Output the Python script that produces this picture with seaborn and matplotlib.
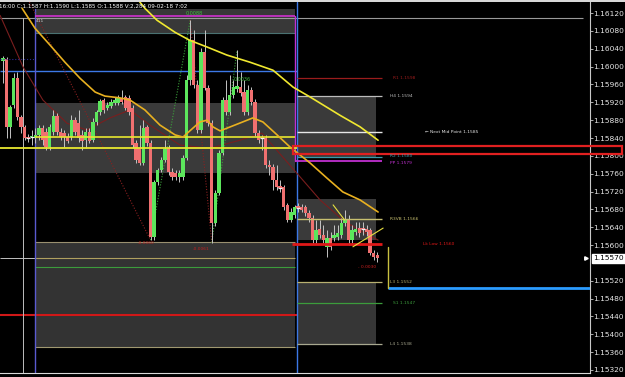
import numpy as np
import pandas as pd
import matplotlib
matplotlib.use("Agg")
import matplotlib.pyplot as plt
from matplotlib.patches import Rectangle
import seaborn as sns

sns.set_style("dark", {"axes.facecolor": "black", "figure.facecolor": "black",
                       "axes.grid": False})
plt.rcParams['font.family'] = ['DejaVu Sans']

# ---------------- data (EURUSD M15-like candles) ----------------
opens = [
    1.16012, 1.16017, 1.15865, 1.15914, 1.15974, 1.15887, 1.15865, 1.15842, 1.15842, 1.15840,
    1.15847, 1.15862, 1.15853, 1.15820, 1.15853, 1.15889, 1.15853, 1.15851, 1.15842, 1.15842,
    1.15880, 1.15873, 1.15847, 1.15835, 1.15853, 1.15835, 1.15876, 1.15898, 1.15925, 1.15907,
    1.15912, 1.15918, 1.15918, 1.15930, 1.15932, 1.15930, 1.15907, 1.15829, 1.15817, 1.15784,
    1.15865, 1.15829, 1.15618, 1.15741, 1.15768, 1.15791, 1.15817, 1.15764, 1.15762, 1.15753,
    1.15753, 1.15795, 1.15970, 1.16059, 1.15959, 1.15858, 1.16032, 1.15952, 1.15873, 1.15650,
    1.15717, 1.15806, 1.15925, 1.15898, 1.15936, 1.15950, 1.15954, 1.15943, 1.15898, 1.15947,
    1.15921, 1.15851, 1.15840, 1.15840, 1.15779, 1.15775, 1.15746, 1.15730, 1.15730, 1.15690,
    1.15656, 1.15667, 1.15685, 1.15685, 1.15685, 1.15672, 1.15661, 1.15611, 1.15636, 1.15623,
    1.15596, 1.15616, 1.15616, 1.15618, 1.15623, 1.15650, 1.15656, 1.15611, 1.15629, 1.15638,
    1.15636, 1.15636, 1.15634, 1.15582, 1.15578]
closes = [
    1.16019, 1.15865, 1.15909, 1.15974, 1.15887, 1.15865, 1.15840, 1.15840, 1.15843, 1.15847,
    1.15862, 1.15835, 1.15820, 1.15865, 1.15889, 1.15853, 1.15842, 1.15842, 1.15833, 1.15880,
    1.15853, 1.15840, 1.15833, 1.15853, 1.15833, 1.15876, 1.15898, 1.15923, 1.15903, 1.15914,
    1.15921, 1.15925, 1.15930, 1.15921, 1.15907, 1.15898, 1.15824, 1.15791, 1.15784, 1.15862,
    1.15829, 1.15618, 1.15741, 1.15768, 1.15791, 1.15815, 1.15764, 1.15753, 1.15753, 1.15762,
    1.15795, 1.15970, 1.16059, 1.15959, 1.15858, 1.16032, 1.15952, 1.15873, 1.15650, 1.15717,
    1.15806, 1.15925, 1.15898, 1.15936, 1.15954, 1.15956, 1.15941, 1.15898, 1.15947, 1.15921,
    1.15851, 1.15835, 1.15839, 1.15779, 1.15775, 1.15746, 1.15730, 1.15729, 1.15685, 1.15656,
    1.15674, 1.15685, 1.15684, 1.15679, 1.15672, 1.15661, 1.15611, 1.15634, 1.15623, 1.15611,
    1.15616, 1.15596, 1.15623, 1.15627, 1.15650, 1.15658, 1.15611, 1.15634, 1.15636, 1.15627,
    1.15635, 1.15629, 1.15582, 1.15573, 1.15570]
highs = [
    1.16024, 1.16021, 1.15914, 1.15985, 1.15988, 1.15891, 1.15869, 1.15849, 1.15858, 1.15862,
    1.15869, 1.15869, 1.15862, 1.15871, 1.15903, 1.15896, 1.15862, 1.15858, 1.15851, 1.15891,
    1.15887, 1.15903, 1.15858, 1.15862, 1.15862, 1.15885, 1.15903, 1.15927, 1.15930, 1.15921,
    1.15927, 1.15932, 1.15936, 1.15947, 1.15936, 1.15936, 1.15914, 1.15835, 1.15869, 1.15880,
    1.15869, 1.15835, 1.15746, 1.15773, 1.15797, 1.15835, 1.15824, 1.15773, 1.15768, 1.15768,
    1.15802, 1.15981, 1.16104, 1.16082, 1.15970, 1.16042, 1.16082, 1.15959, 1.15880, 1.15723,
    1.15813, 1.15932, 1.15970, 1.15981, 1.15970, 1.16037, 1.15988, 1.15970, 1.15959, 1.15954,
    1.15927, 1.15858, 1.15847, 1.15847, 1.15791, 1.15782, 1.15779, 1.15746, 1.15735, 1.15694,
    1.15683, 1.15690, 1.15694, 1.15692, 1.15690, 1.15679, 1.15667, 1.15656, 1.15656, 1.15645,
    1.15634, 1.15629, 1.15645, 1.15645, 1.15661, 1.15679, 1.15667, 1.15645, 1.15652, 1.15652,
    1.15652, 1.15645, 1.15638, 1.15589, 1.15585]
lows = [
    1.15963, 1.15840, 1.15840, 1.15907, 1.15880, 1.15851, 1.15835, 1.15831, 1.15824, 1.15829,
    1.15835, 1.15824, 1.15813, 1.15813, 1.15847, 1.15847, 1.15835, 1.15820, 1.15829, 1.15835,
    1.15847, 1.15831, 1.15813, 1.15817, 1.15829, 1.15831, 1.15869, 1.15891, 1.15896, 1.15903,
    1.15907, 1.15914, 1.15914, 1.15916, 1.15903, 1.15891, 1.15817, 1.15784, 1.15779, 1.15779,
    1.15822, 1.15611, 1.15611, 1.15735, 1.15764, 1.15786, 1.15757, 1.15746, 1.15746, 1.15741,
    1.15746, 1.15791, 1.15959, 1.15952, 1.15851, 1.15851, 1.15947, 1.15867, 1.15605, 1.15643,
    1.15712, 1.15802, 1.15891, 1.15891, 1.15930, 1.15943, 1.15934, 1.15891, 1.15891, 1.15914,
    1.15844, 1.15829, 1.15813, 1.15773, 1.15757, 1.15723, 1.15723, 1.15719, 1.15679, 1.15652,
    1.15652, 1.15661, 1.15674, 1.15674, 1.15665, 1.15652, 1.15605, 1.15605, 1.15616, 1.15605,
    1.15573, 1.15589, 1.15609, 1.15611, 1.15616, 1.15643, 1.15600, 1.15605, 1.15623, 1.15618,
    1.15623, 1.15620, 1.15578, 1.15567, 1.15562]

# moving averages (bar index, price)
ma_slow_idx = [38.0, 39.4, 42.8, 47.8, 51.9, 56.7, 62.2, 68.6, 75.0, 80.6, 85.3, 93.6, 99.2, 104.2]
ma_slow_val = [1.16145, 1.16131, 1.16104, 1.16077, 1.16059, 1.16044, 1.16026, 1.16010,
               1.15992, 1.15954, 1.15932, 1.15891, 1.15865, 1.15835]
ma_mid_idx = [5.3, 8.9, 13.1, 17.2, 21.4, 25.6, 28.3, 32.5, 35.3, 39.4, 43.6, 47.8, 50.0,
              51.9, 54.7, 56.7, 58.3, 60.3, 64.4, 69.4, 72.2, 75.6, 79.7, 85.3, 90.0, 94.4,
              99.2, 104.2]
ma_mid_val = [1.16131, 1.16086, 1.16048, 1.16010, 1.15974, 1.15943, 1.15934, 1.15930,
              1.15925, 1.15903, 1.15869, 1.15847, 1.15842, 1.15856, 1.15876, 1.15880,
              1.15865, 1.15856, 1.15869, 1.15885, 1.15876, 1.15851, 1.15820, 1.15784,
              1.15750, 1.15719, 1.15701, 1.15674]
ma_fast_idx = [-0.8, 5.6, 11.1, 17.8, 23.3, 29.7, 35.3, 40.8, 49.2, 57.5, 65.8, 71.9,
               79.7, 88.1, 95.0, 104.2]
ma_fast_val = [1.16115, 1.15999, 1.15925, 1.15873, 1.15858, 1.15885, 1.15903, 1.15869,
               1.15824, 1.15817, 1.15835, 1.15851, 1.15779, 1.15701, 1.15652, 1.15611]

# zigzag swing points
zz_idx = [7.0, 41.0, 52.0, 58.0, 65.0]
zz_val = [1.16150, 1.15611, 1.16104, 1.15605, 1.16037]

# pivot levels (right side)
level_prices = [1.15974, 1.15934, 1.15853, 1.15797, 1.15788, 1.15658, 1.15602,
                1.15517, 1.15470, 1.15378]
level_labels = ["R1 1.1598", "H4 1.1594", "\u2190 Next Mid Point 1.1585", "R2 1.1580",
                "PP 1.1579", "R3VB 1.1566", "Lk Low 1.1560", "L3 1.1552", "S1 1.1547",
                "L4 1.1538"]

current_price = 1.15570
target_price = 1.15504
header = "16:00 C:1.1587 H:1.1590 L:1.1585 O:1.1588 V:2,284 09-02-18 7:02"
tick_prices = [1.16120, 1.16080, 1.16040, 1.16000, 1.15960, 1.15920, 1.15880, 1.15840,
               1.15800, 1.15760, 1.15720, 1.15680, 1.15640, 1.15600, 1.15520, 1.15480,
               1.15440, 1.15400, 1.15360, 1.15320]

# ---------------- figure ----------------
fig = plt.figure(figsize=(6.25, 3.77), dpi=100)
fig.patch.set_facecolor("black")
ax = fig.add_axes([0.0, 4 / 377, 590 / 625, 371 / 377])
ax.set_facecolor("black")
ax.set_xlim(-0.83, 163.06)
ax.set_ylim(1.15313, 1.16145)

df = pd.DataFrame({"open": opens, "close": closes, "high": highs, "low": lows})
df["idx"] = np.arange(len(df))

# shaded zones
def box(x0, x1, p0, p1, color, z=0.5):
    ax.add_patch(Rectangle((x0, p0), x1 - x0, p1 - p0, facecolor=color,
                           edgecolor="none", zorder=z))

box(8.9, 81.1, 1.16075, 1.16129, "#383838")
box(8.9, 81.1, 1.15761, 1.15918, "#3a3a3a")
box(8.9, 81.1, 1.15372, 1.15607, "#333333")
box(81.7, 103.6, 1.15797, 1.15934, "#3a3a3a")
box(81.7, 103.6, 1.15611, 1.15703, "#3a3a3a")
box(81.7, 103.6, 1.15378, 1.15517, "#363636")

# left-zone horizontal lines
def hl(p, x0, x1, color, lw=0.8, ls="-", z=4):
    ax.plot([x0, x1], [p, p], color=color, lw=lw, ls=ls, zorder=z, solid_capstyle="butt")

hl(1.16109, -0.83, 161.1, "#9a9a9a", 0.8, z=1)
hl(1.16113, 8.9, 81.1, "#d030d0", 1.2)
hl(1.16075, 8.9, 81.1, "#4a7272", 0.8, z=1)
hl(1.16017, -0.83, 8.9, "#2a2a90", 0.8, ":")
hl(1.15990, -0.83, 81.7, "#3c78e6", 1.0, z=1)
hl(1.15842, 8.9, 81.1, "#e8e830", 1.2)
hl(1.15817, -0.83, 81.7, "#e8e830", 1.3)
hl(1.15607, 8.9, 81.1, "#9a9070", 0.8, z=1)
hl(1.15571, -0.83, 8.9, "#c0c0c0", 0.7, z=1)
hl(1.15571, 8.9, 81.1, "#b0a060", 0.8, z=1)
hl(1.15551, 8.9, 81.1, "#3c9c3c", 0.8, z=1)
hl(1.15443, -0.83, 81.7, "#d01818", 1.5, z=1)
hl(1.15372, 8.9, 81.1, "#a09870", 0.8, z=1)

# vertical separators
for xv, col, p0, p1, lw in [(5.56, "#bdbdbd", 1.15313, 1.16109, 0.7),
                            (8.89, "#5a5ad0", 1.15313, 1.16129, 1.0),
                            (81.1, "#c030d0", 1.15788, 1.16113, 1.0),
                            (81.7, "#3c78e6", 1.15313, 1.16145, 1.0)]:
    ax.plot([xv, xv], [p0, p1], color=col, lw=lw, zorder=1)

# pivot levels and labels
lvl_colors = ["#9a1c1c", "#bdbdbd", "#e6e6e6", "#3a9aaa", "#c030d0", "#c8c070",
              "#e01818", "#b8b070", "#3c9c3c", "#a8a890"]
lvl_lw = [0.9, 0.9, 1.0, 0.9, 1.3, 1.0, 2.0, 0.9, 0.9, 0.9]
lvl_x0 = [81.7, 81.7, 81.7, 81.7, 81.1, 81.7, 80.3, 81.7, 81.7, 81.7]
lbl_x = [108.3, 107.5, 117.2, 107.5, 107.5, 107.5, 116.7, 107.5, 108.3, 107.5]
lbl_dy = [0, 0, 0, 0.00003, -0.00004, 0, 0, 0, 0, 0]
for p, t, c, lw, x0, lx, dy in zip(level_prices, level_labels, lvl_colors, lvl_lw,
                                    lvl_x0, lbl_x, lbl_dy):
    hl(p, x0, 105.3, c, lw, z=4)
    ax.text(lx, p + dy, t, color=c, fontsize=3.2, va="center", ha="left", zorder=6)

# red outlined band
ax.add_patch(Rectangle((80.6, 1.15804), 171.9 - 80.6, 1.15822 - 1.15804, facecolor="none",
                       edgecolor="#e02020", lw=1.6, zorder=5, clip_on=False))

# target line
hl(target_price, 106.9, 163.06, "#2b9cff", 2.0, z=4)
ax.plot([106.9, 106.9], [1.15595, target_price], color="#c8c040", lw=1.0, zorder=4)

# zigzag
for i in range(len(zz_idx) - 1):
    col = "#8a2020" if zz_val[i + 1] < zz_val[i] else "#3aa03a"
    sns.lineplot(x=zz_idx[i:i + 2], y=zz_val[i:i + 2], ax=ax, color=col, lw=0.8,
                 linestyle=(0, (1, 1.5)), estimator=None, zorder=2)

# candles
bull = df["close"] >= df["open"]
body_lo = np.minimum(df["open"], df["close"])
body_h = np.maximum(np.abs(df["close"] - df["open"]), 0.000025)
ax.vlines(df["idx"], df["low"], df["high"], color="#c4c4c4", lw=0.7, zorder=3)
colors = np.where(bull, "#5ce65c", "#f07070")
ax.bar(df["idx"], body_h, bottom=body_lo, width=0.95, color=colors, linewidth=0,
       zorder=3.2, antialiased=False)
doji = np.abs(df["close"] - df["open"]) < 0.00003
ax.hlines(df["close"][doji], df["idx"][doji] - 0.5, df["idx"][doji] + 0.5,
          color="#f0f0f0", lw=0.9, zorder=3.3)

# moving averages
sns.lineplot(x=ma_fast_idx, y=ma_fast_val, ax=ax, color="#7a1e1e", lw=0.8,
             estimator=None, zorder=2.5)
sns.lineplot(x=ma_mid_idx, y=ma_mid_val, ax=ax, color="#e8b020", lw=1.2,
             estimator=None, zorder=4.5)
sns.lineplot(x=ma_slow_idx, y=ma_slow_val, ax=ax, color="#f0e830", lw=1.2,
             estimator=None, zorder=4.5)

# wedge lines
ax.plot([91.7, 94.9], [1.15690, 1.15656], color="#e8e040", lw=0.8, zorder=4.6)
ax.plot([97.2, 105.6], [1.15596, 1.15638], color="#e8e040", lw=0.8, zorder=4.6)

# small annotations
ax.text(50.7, 1.16120, "0.0088", color="#40c040", fontsize=3.5, va="center", zorder=6)
ax.text(9.2, 1.16102, "411", color="#d0d0d0", fontsize=3.2, va="center", zorder=6)
ax.text(64.0, 1.15972, "0.0036", color="#40c040", fontsize=3.5, va="center", zorder=6)
ax.text(37.5, 1.15605, "-0.0060", color="#c02020", fontsize=3.2, va="center", zorder=6)
ax.text(52.8, 1.15591, "-0.0061", color="#c02020", fontsize=3.2, va="center", zorder=6)
ax.text(98.5, 1.15551, "- 0.0030", color="#d02020", fontsize=3.2, va="center", zorder=6)

# axes styling
ax.set_xticks([])
ax.yaxis.tick_right()
ax.set_yticks(tick_prices)
ax.set_yticklabels([f"{p:.5f}" for p in tick_prices])
ax.tick_params(axis="y", colors="#c8c8c8", labelcolor="#e6e6e6", labelsize=5.4,
               length=2, width=0.6, pad=0.5, direction="out")
for s in ["left", "top"]:
    ax.spines[s].set_visible(False)
ax.spines["right"].set_color("#c8c8c8")
ax.spines["right"].set_linewidth(0.8)
ax.spines["bottom"].set_color("#d8d8d8")
ax.spines["bottom"].set_linewidth(0.8)
ax.set_xlabel("")
ax.set_ylabel("")

# current price tag
trans = ax.get_yaxis_transform()
ax.text(1.006, current_price, f"{current_price:.5f}", transform=trans, color="black",
        fontsize=5.4, va="center", ha="left", zorder=7, clip_on=False,
        bbox=dict(boxstyle="square,pad=0.15", facecolor="white", edgecolor="white"))
ax.plot([0.993], [current_price], marker=">", ms=2.5, color="white", transform=trans,
        clip_on=False, zorder=7)

# header line and top strip
fig.patches.append(Rectangle((0, 1 - 2 / 377), 1, 2 / 377, transform=fig.transFigure,
                             facecolor="#d8d8d8", edgecolor="none"))
fig.text(-0.002, 1 - 6 / 377, header, color="white", fontsize=4.1, va="center", ha="left")

fig.savefig("out.png", dpi=100, facecolor="black")
